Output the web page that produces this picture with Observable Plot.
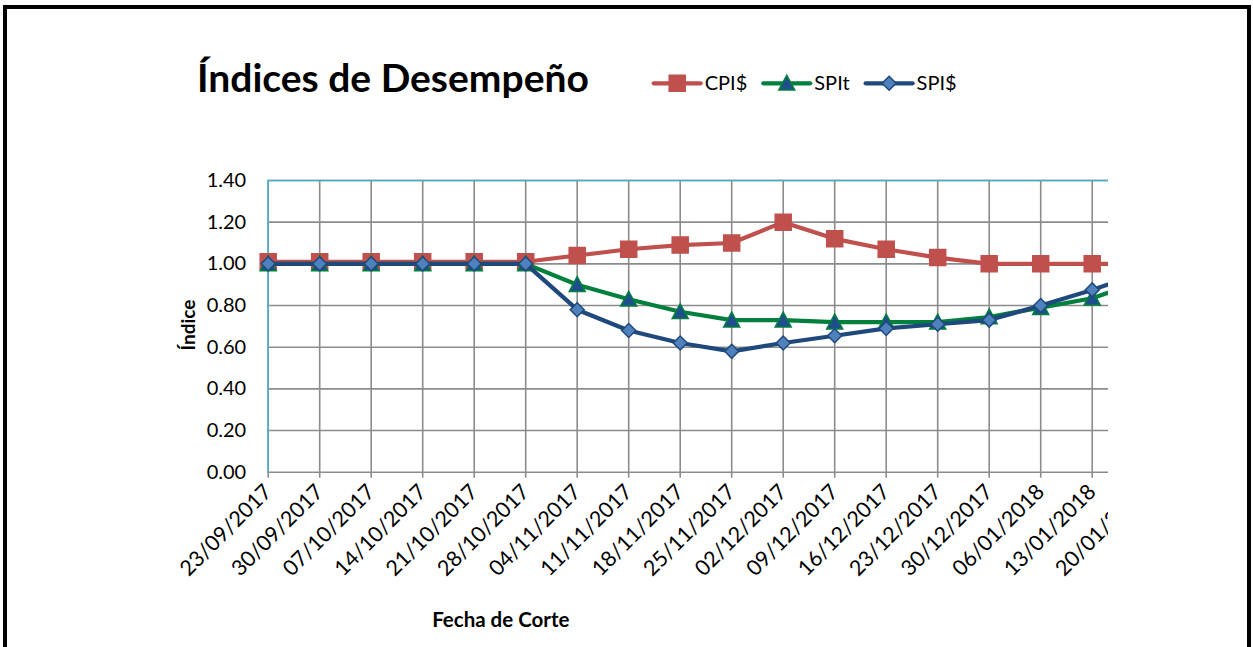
<!DOCTYPE html>
<html><head><meta charset="utf-8">
<script src="https://cdn.jsdelivr.net/npm/d3@7"></script>
<script src="https://cdn.jsdelivr.net/npm/@observablehq/plot@0.6"></script>
<style>
html,body{margin:0;padding:0;background:#fff;}
#wrap{position:relative;width:1253px;height:647px;overflow:hidden;font-family:Lato,sans-serif;}
#frame{position:absolute;left:3px;top:5px;width:1248px;height:800px;border:4px solid #000;box-sizing:border-box;}
#chart{position:absolute;left:8px;top:140px;}
#overlay{position:absolute;left:0;top:0;pointer-events:none;}
</style></head><body>
<div id="wrap"><div id="frame"></div><div id="chart"></div><svg id="overlay" width="1253" height="647"></svg></div>
<script>
// ---- data ----
const dates = ["23/09/2017","30/09/2017","07/10/2017","14/10/2017","21/10/2017","28/10/2017",
  "04/11/2017","11/11/2017","18/11/2017","25/11/2017","02/12/2017","09/12/2017",
  "16/12/2017","23/12/2017","30/12/2017","06/01/2018","13/01/2018","20/01/2018"];
const seriesNames = ["CPI$", "SPIt", "SPI$"];
const cpiValues  = [1.01,1.01,1.01,1.01,1.01,1.01,1.04,1.07,1.09,1.10,1.20,1.12,1.07,1.03,1.00,1.00,1.00,1.00];
const spitValues = [1.00,1.00,1.00,1.00,1.00,1.00,0.90,0.83,0.77,0.73,0.73,0.72,0.72,0.72,0.745,0.79,0.835,0.92];
const spiValues  = [1.00,1.00,1.00,1.00,1.00,1.00,0.78,0.68,0.62,0.58,0.62,0.655,0.69,0.71,0.73,0.80,0.875,0.96];
const yTicks = [0, 0.2, 0.4, 0.6, 0.8, 1.0, 1.2, 1.4];
const titleText = "Índices de Desempeño";
const xTitle = "Fecha de Corte";
const yTitle = "Índice";

// ---- styles ----
const lineColors = ["#c0504d", "#00803c", "#1f497d"];
const markFill = ["#c0504d", "#1f4e8c", "#4f81bd"];
const markStroke = ["#c0504d", "#00803c", "#1f497d"];
const gridColor = "#8c8c8c";
const teal = "#4bacc6";

// custom symbols (Excel-like)
const rOf = size => Math.sqrt(size / Math.PI);
const squareSym = {draw(ctx, size){ const r = rOf(size); ctx.moveTo(-r,-r); ctx.lineTo(r,-r); ctx.lineTo(r,r); ctx.lineTo(-r,r); ctx.closePath(); }};
const triangleSym = {draw(ctx, size){ const r = rOf(size); ctx.moveTo(0,-r); ctx.lineTo(r, r*0.85); ctx.lineTo(-r, r*0.85); ctx.closePath(); }};
const diamondSym = {draw(ctx, size){ const r = rOf(size); ctx.moveTo(0,-r); ctx.lineTo(r,0); ctx.lineTo(0,r); ctx.lineTo(-r,0); ctx.closePath(); }};
const symbols = [squareSym, triangleSym, diamondSym];
const symR = [8, 8, 7];

const allValues = [cpiValues, spitValues, spiValues];
const seriesData = allValues.map((vals, s) => dates.map((d, i) => ({date: d, value: vals[i], series: seriesNames[s]})));

const W = 1100, H = 500;
const left = 259.7, step = 51.5;

const seriesMarks = seriesData.flatMap((data, s) => [
  Plot.line(data, {x: "date", y: "value", stroke: lineColors[s], strokeWidth: 4.2, strokeLinejoin: "round", strokeLinecap: "round"}),
  Plot.dot(data, {x: "date", y: "value", symbol: symbols[s], r: symR[s], fill: markFill[s], stroke: markStroke[s], strokeWidth: 1.5})
]);

const chart = Plot.plot({
  width: W, height: H,
  marginLeft: left, marginRight: 0, marginTop: 40, marginBottom: 168.3,
  style: {fontFamily: "Lato, sans-serif", fontSize: "20px", color: "#000", background: "transparent", overflow: "hidden"},
  x: {type: "point", domain: dates, range: [left, left + step * (dates.length - 1)], padding: 0, round: false},
  y: {domain: [0, 1.4]},
  marks: [
    Plot.ruleY(yTicks, {stroke: gridColor, strokeWidth: 1.6}),
    Plot.ruleX(dates, {y1: 0, y2: 1.4, stroke: gridColor, strokeWidth: 1.6}),
    Plot.ruleY([1.4], {stroke: teal, strokeWidth: 1.6}),
    Plot.ruleX([dates[0]], {y1: 0, y2: 1.4, stroke: teal, strokeWidth: 1.6}),
    Plot.axisX({tickRotate: -45, tickSize: 6, tickPadding: 10, stroke: gridColor, strokeWidth: 1.6, label: null, fontSize: 21.5}),
    Plot.axisY({ticks: yTicks, tickFormat: d => d.toFixed(2), tickSize: 0, tickPadding: 22, label: null, fontSize: 20}),
    ...seriesMarks
  ]
});
chart.style.overflow = "hidden";
document.getElementById("chart").appendChild(chart);

// ---- overlay: title, legend, axis titles ----
const ov = d3.select("#overlay");
ov.append("text").attr("x", 197).attr("y", 92).attr("font-family", "Lato").attr("font-weight", "bold")
  .attr("font-size", 39).attr("fill", "#000").text(titleText);

ov.append("text").attr("x", 500.8).attr("y", 626.5).attr("text-anchor", "middle").attr("font-family", "Lato")
  .attr("font-weight", "bold").attr("font-size", 20.5).attr("fill", "#000").text(xTitle);

ov.append("text").attr("transform", "translate(195,325) rotate(-90)").attr("text-anchor", "middle")
  .attr("font-family", "Lato").attr("font-weight", "bold").attr("font-size", 19).attr("fill", "#000").text(yTitle);

// legend
let lx = 652.7;
const ly = 83.3;
seriesNames.forEach((name, s) => {
  const g = ov.append("g");
  g.append("line").attr("x1", lx + 1).attr("x2", lx + 48).attr("y1", ly).attr("y2", ly)
    .attr("stroke", lineColors[s]).attr("stroke-width", 4.2).attr("stroke-linecap", "round");
  const sz = Math.PI * symR[s] * symR[s];
  g.append("path").attr("transform", `translate(${lx + 24.5},${ly})`)
    .attr("d", d3.symbol(symbols[s], sz)())
    .attr("fill", markFill[s]).attr("stroke", markStroke[s]).attr("stroke-width", 1.5);
  const t = g.append("text").attr("x", lx + 52).attr("y", ly + 7).attr("font-family", "Lato")
    .attr("font-size", 20).attr("fill", "#000").text(name);
  const w = t.node().getComputedTextLength();
  lx = lx + 52 + w + 15;
});
</script>
</body></html>
